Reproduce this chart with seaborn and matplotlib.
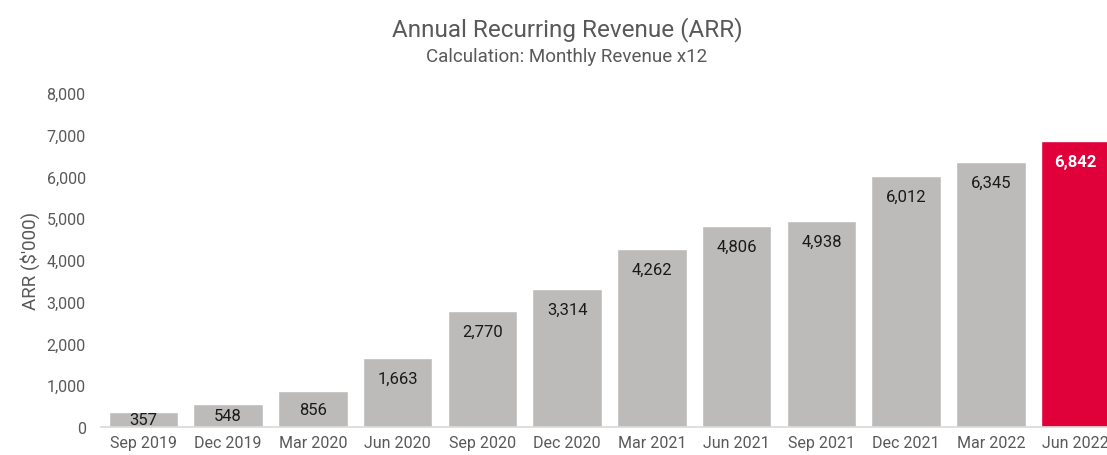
import matplotlib
matplotlib.use("Agg")
import matplotlib.pyplot as plt
import seaborn as sns
import pandas as pd

quarters = ["Sep 2019", "Dec 2019", "Mar 2020", "Jun 2020", "Sep 2020", "Dec 2020",
            "Mar 2021", "Jun 2021", "Sep 2021", "Dec 2021", "Mar 2022", "Jun 2022"]
arr_values = [357, 548, 856, 1663, 2770, 3314, 4262, 4806, 4938, 6012, 6345, 6842]
y_ticks = [0, 1000, 2000, 3000, 4000, 5000, 6000, 7000, 8000]

gray = "#bcbbba"
red = "#e0003a"
text_gray = "#595959"

df = pd.DataFrame({"Quarter": quarters, "ARR": arr_values})
bar_colors = [gray] * (len(quarters) - 1) + [red]

sns.set_theme(style="white")
plt.rcParams["font.family"] = ["Roboto", "DejaVu Sans"]

fig = plt.figure(figsize=(11.07, 4.56), dpi=100)
# axes runs a little past the right edge, like the original cropped screenshot
ax = fig.add_axes([101 / 1107, 28 / 456, 1017 / 1107, 334 / 456])

sns.barplot(data=df, x="Quarter", y="ARR", hue="Quarter", palette=bar_colors,
            legend=False, width=0.82, saturation=1, ax=ax)

ax.set_ylim(0, 8000)
ax.set_xlim(-0.5, len(quarters) - 0.5)
ax.set_yticks(y_ticks)
ax.set_yticklabels([f"{v:,}" for v in y_ticks], color=text_gray, fontsize=11.5)
ax.tick_params(axis="x", colors=text_gray, labelsize=11.5, pad=6, length=0)
ax.tick_params(axis="y", length=0, pad=11)
ax.set_xlabel("")
ax.set_ylabel("ARR ($'000)", color=text_gray, fontsize=13.5, labelpad=5)

for side in ["top", "right", "left"]:
    ax.spines[side].set_visible(False)
ax.spines["bottom"].set_color("#d9d9d9")
ax.spines["bottom"].set_linewidth(1.2)

# label sits just under the bar top, or mid-bar for short bars
for i, (p, v) in enumerate(zip(ax.patches, arr_values)):
    last = i == len(arr_values) - 1
    y = max(v / 2, v - 490)
    ax.text(p.get_x() + p.get_width() / 2, y, f"{v:,}", ha="center", va="center",
            fontsize=12, color="white" if last else "#1a1a1a",
            fontweight="bold" if last else "normal")

fig.text(567 / 1107, 1 - 30 / 456, "Annual Recurring Revenue (ARR)", ha="center", va="center",
         fontsize=17.5, color=text_gray)
fig.text(567 / 1107, 1 - 57 / 456, "Calculation: Monthly Revenue x12", ha="center", va="center",
         fontsize=13.5, color=text_gray)

fig.savefig("out.png", dpi=100)
